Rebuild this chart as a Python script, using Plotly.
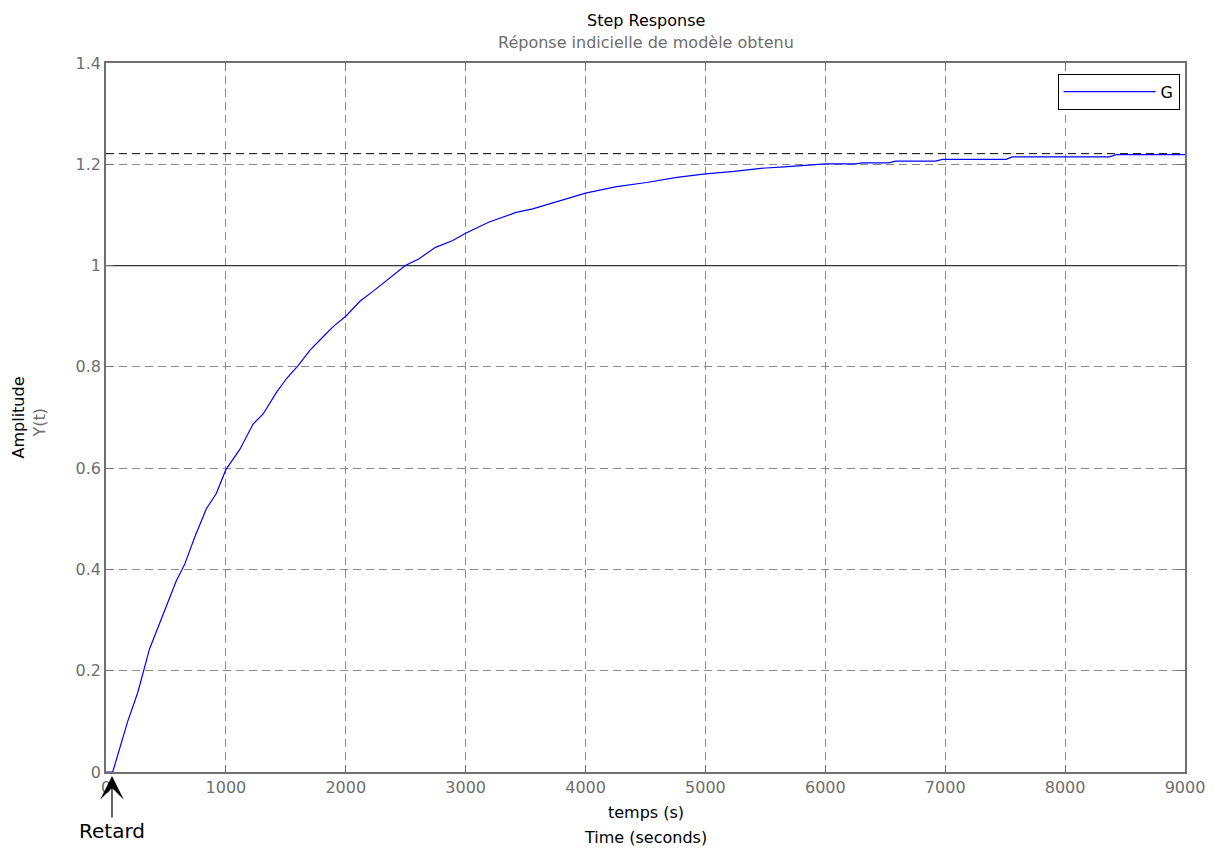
import plotly.graph_objects as go

# ---- data ----
t_s = [0, 56, 181, 265, 363, 460, 586, 656, 739, 837, 920, 1000, 1116, 1227, 1311,
       1423, 1506, 1604, 1702, 1813, 1897, 2000, 2120, 2232, 2371, 2497, 2608, 2748,
       2888, 3000, 3196, 3420, 3559, 3699, 3839, 4000, 4259, 4510, 4762, 5000, 5238,
       5462, 5657, 5797, 6000, 6251, 6307, 6530, 6586, 6920, 6976, 7506, 7562, 8371,
       8427, 9000]
y_resp = [0, 0, 0.100, 0.157, 0.243, 0.300, 0.377, 0.410, 0.463, 0.520, 0.550, 0.597,
          0.637, 0.687, 0.707, 0.750, 0.777, 0.803, 0.833, 0.860, 0.880, 0.900, 0.930,
          0.950, 0.977, 1.000, 1.013, 1.036, 1.049, 1.064, 1.086, 1.105, 1.112, 1.122,
          1.132, 1.143, 1.156, 1.164, 1.174, 1.181, 1.186, 1.192, 1.195, 1.197, 1.2007,
          1.2007, 1.2028, 1.2028, 1.2062, 1.2062, 1.2097, 1.2097, 1.2145, 1.2145,
          1.219, 1.219]
setpoint = 1.0
final_value = 1.221
delay_t = 50
x_range = [0, 9000]
y_range = [0, 1.4]
x_ticks = [0, 1000, 2000, 3000, 4000, 5000, 6000, 7000, 8000, 9000]
y_ticks = [0, 0.2, 0.4, 0.6, 0.8, 1.0, 1.2, 1.4]
y_tick_text = ["0", "0.2", "0.4", "0.6", "0.8", "1", "1.2", "1.4"]

FONT = "DejaVu Sans"
GRAY = "#6e6e6e"

fig = go.Figure()
fig.add_trace(go.Scatter(x=x_range, y=[setpoint, setpoint], mode="lines",
                         line=dict(color="#333333", width=1.2), showlegend=False,
                         hoverinfo="skip"))
fig.add_trace(go.Scatter(x=x_range, y=[final_value, final_value], mode="lines",
                         line=dict(color="#000000", width=1, dash="8px,5px"),
                         showlegend=False, hoverinfo="skip"))
fig.add_trace(go.Scatter(x=t_s, y=y_resp, mode="lines", name="G",
                         line=dict(color="#0000ff", width=1.2)))

axis_common = dict(
    showline=True, linecolor="#707070", linewidth=1.5, mirror="ticks",
    ticks="inside", ticklen=7, tickcolor="#707070",
    showgrid=True, gridcolor="#8a8a8a", gridwidth=1, griddash="8px,5px",
    zeroline=False, tickfont=dict(family=FONT, size=16, color=GRAY),
)
fig.update_xaxes(range=x_range, tickvals=x_ticks, **axis_common)
fig.update_yaxes(range=y_range, tickvals=y_ticks, ticktext=y_tick_text, **axis_common)

ann = []
ann.append(dict(text="Step Response", x=0.5, y=1, xref="paper", yref="paper",
                xanchor="center", yanchor="middle", yshift=43, showarrow=False,
                font=dict(family=FONT, size=16, color="#000000")))
ann.append(dict(text="Réponse indicielle de modèle obtenu", x=0.5, y=1, xref="paper",
                yref="paper", xanchor="center", yanchor="middle", yshift=21,
                showarrow=False, font=dict(family=FONT, size=16, color=GRAY)))
ann.append(dict(text="temps (s)", x=0.5, y=0, xref="paper", yref="paper",
                xanchor="center", yanchor="middle", yshift=-40, showarrow=False,
                font=dict(family=FONT, size=16, color="#000000")))
ann.append(dict(text="Time (seconds)", x=0.5, y=0, xref="paper", yref="paper",
                xanchor="center", yanchor="middle", yshift=-65, showarrow=False,
                font=dict(family=FONT, size=16, color="#000000")))
ann.append(dict(text="Amplitude", x=0, y=0.5, xref="paper", yref="paper",
                xanchor="center", yanchor="middle", xshift=-88, textangle=-90,
                showarrow=False, font=dict(family=FONT, size=16, color="#000000")))
ann.append(dict(text="Y(t)", x=0, y=0.5, xref="paper", yref="paper",
                xanchor="center", yanchor="middle", xshift=-67, yshift=-5, textangle=-90,
                showarrow=False, font=dict(family=FONT, size=16, color=GRAY)))
ann.append(dict(text="Retard", x=delay_t, y=0, xref="x", yref="y",
                showarrow=True, ax=0, ay=55, arrowhead=3, arrowsize=3.3,
                arrowwidth=1.2, arrowcolor="#000000", standoff=0, yshift=-4,
                font=dict(family=FONT, size=20, color="#000000")))
fig.update_layout(annotations=ann)

# page body has an 8px margin: size the figure so the plot lands where it should
fig.update_layout(
    width=1209, height=840,
    margin=dict(l=98, r=30, t=55, b=76),
    paper_bgcolor="white", plot_bgcolor="white",
    font=dict(family=FONT),
    legend=dict(x=0.995, y=0.985, xanchor="right", yanchor="top",
                bgcolor="white", bordercolor="#000000", borderwidth=1,
                font=dict(family=FONT, size=16, color="#000000"), itemwidth=92),
)

fig.write_html("out.html")
